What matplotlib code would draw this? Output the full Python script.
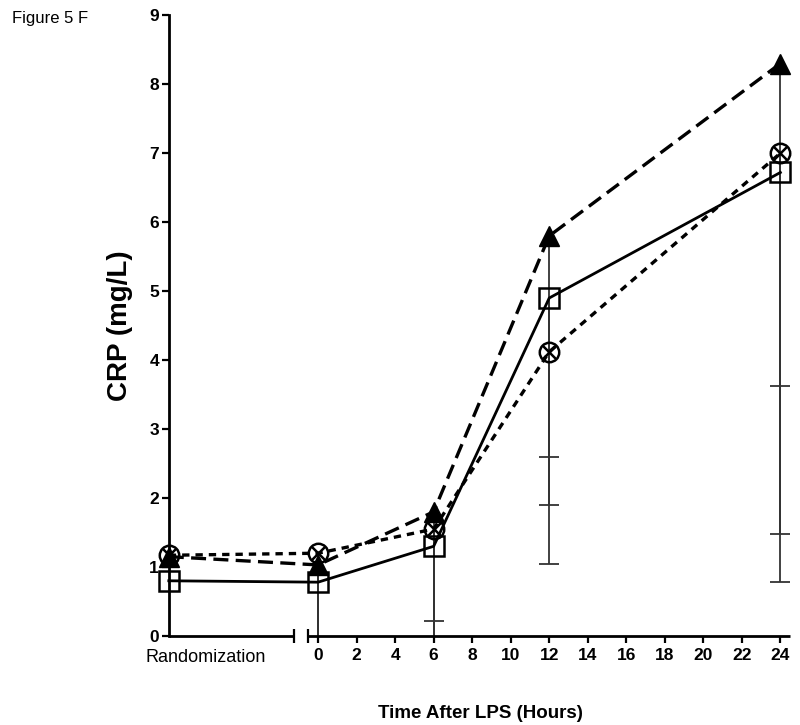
import numpy as np
import matplotlib
matplotlib.use("Agg")
import matplotlib.pyplot as plt
import matplotlib.transforms as mtransforms

plt.rcParams['font.family'] = ['Liberation Sans', 'DejaVu Sans']

# data
times = [0, 6, 12, 24]          # hours after LPS
rand_label = "Randomization"
tri_mean = [1.15, 1.03, 1.80, 5.80, 8.30]
tri_sd = [1.60, 1.60, 2.00, 4.75, 7.52]
circ_mean = [1.17, 1.20, 1.55, 4.12, 7.00]
circ_sd = [1.70, 1.70, 1.90, 1.52, 5.52]
sq_mean = [0.80, 0.78, 1.30, 4.90, 6.72]
sq_sd = [1.30, 1.30, 1.08, 3.00, 3.10]
yticks = list(range(0, 10))
xticks = list(range(0, 25, 2))

# randomization sits left of the axis break
RAND_POS = -7.75
x = np.array([RAND_POS] + times, dtype=float)

fig = plt.figure(figsize=(8, 7.25), dpi=100)
ax = fig.add_axes([0.211, 0.1228, 0.7765, 0.8562])
ax.set_xlim(RAND_POS, 24.5)
ax.set_ylim(0, 9)

# lower error bars only
for m, sd in [(tri_mean, tri_sd), (circ_mean, circ_sd), (sq_mean, sq_sd)]:
    m = np.array(m); sd = np.array(sd)
    low = m - sd
    ax.vlines(x, low, m, color='#333333', lw=1.3, zorder=2)
    ok = low > 0
    ax.plot(x[ok], low[ok], ls='none', marker='_', ms=15, mew=1.3,
            color='#333333', zorder=2)

# series
ax.plot(x, tri_mean, color='black', lw=2.4, ls=(0, (4.5, 2.2)), marker='^',
        ms=14, mfc='black', mec='black', clip_on=False, zorder=4)
ax.plot(x, circ_mean, color='black', lw=2.4, ls=(0, (2.2, 1.8)), marker='o',
        ms=14, mfc='none', mec='black', mew=1.8, clip_on=False, zorder=4)
ax.plot(x, circ_mean, ls='none', marker='x', ms=9.5, mec='black', mew=1.8,
        clip_on=False, zorder=4)
ax.plot(x, sq_mean, color='black', lw=2.0, ls='-', marker='s',
        ms=15, mfc='none', mec='black', mew=1.8, clip_on=False, zorder=5)

# axes styling
for s in ['top', 'right', 'bottom']:
    ax.spines[s].set_visible(False)
ax.spines['left'].set_linewidth(2)
ax.set_yticks(yticks)
ax.set_yticklabels([str(v) for v in yticks], fontsize=12.5, fontweight='bold')
ax.tick_params(axis='y', direction='out', length=5, width=1.6, pad=2)
ax.set_xticks(xticks)
ax.set_xticklabels([str(v) for v in xticks], fontsize=12.5, fontweight='bold')
ax.tick_params(axis='x', direction='out', length=5, width=1.6, pad=4)

# broken x axis drawn by hand
trans = mtransforms.blended_transform_factory(ax.transData, ax.transAxes)
ax.plot([RAND_POS, -1.25], [0, 0], color='black', lw=2, transform=trans,
        clip_on=False, solid_capstyle='butt')
ax.plot([-0.5, 24.5], [0, 0], color='black', lw=2, transform=trans,
        clip_on=False, solid_capstyle='butt')
ax.plot([-1.25, -0.5], [0, 0], ls='none', marker='|', ms=10, mew=1.6,
        color='black', transform=trans, clip_on=False)

fig.text(206 / 800, 1 - 658 / 725, rand_label, ha='center', va='center',
         fontsize=13)
ax.set_ylabel("CRP (mg/L)", fontsize=20, fontweight='bold', labelpad=12)
fig.text(480 / 800, 1 - 714 / 725, "Time After LPS (Hours)", ha='center',
         va='center', fontsize=13.5, fontweight='bold')
fig.text(12 / 800, 1 - 18 / 725, "Figure 5 F", ha='left', va='center',
         fontsize=12)

fig.savefig("out.png", dpi=100)
